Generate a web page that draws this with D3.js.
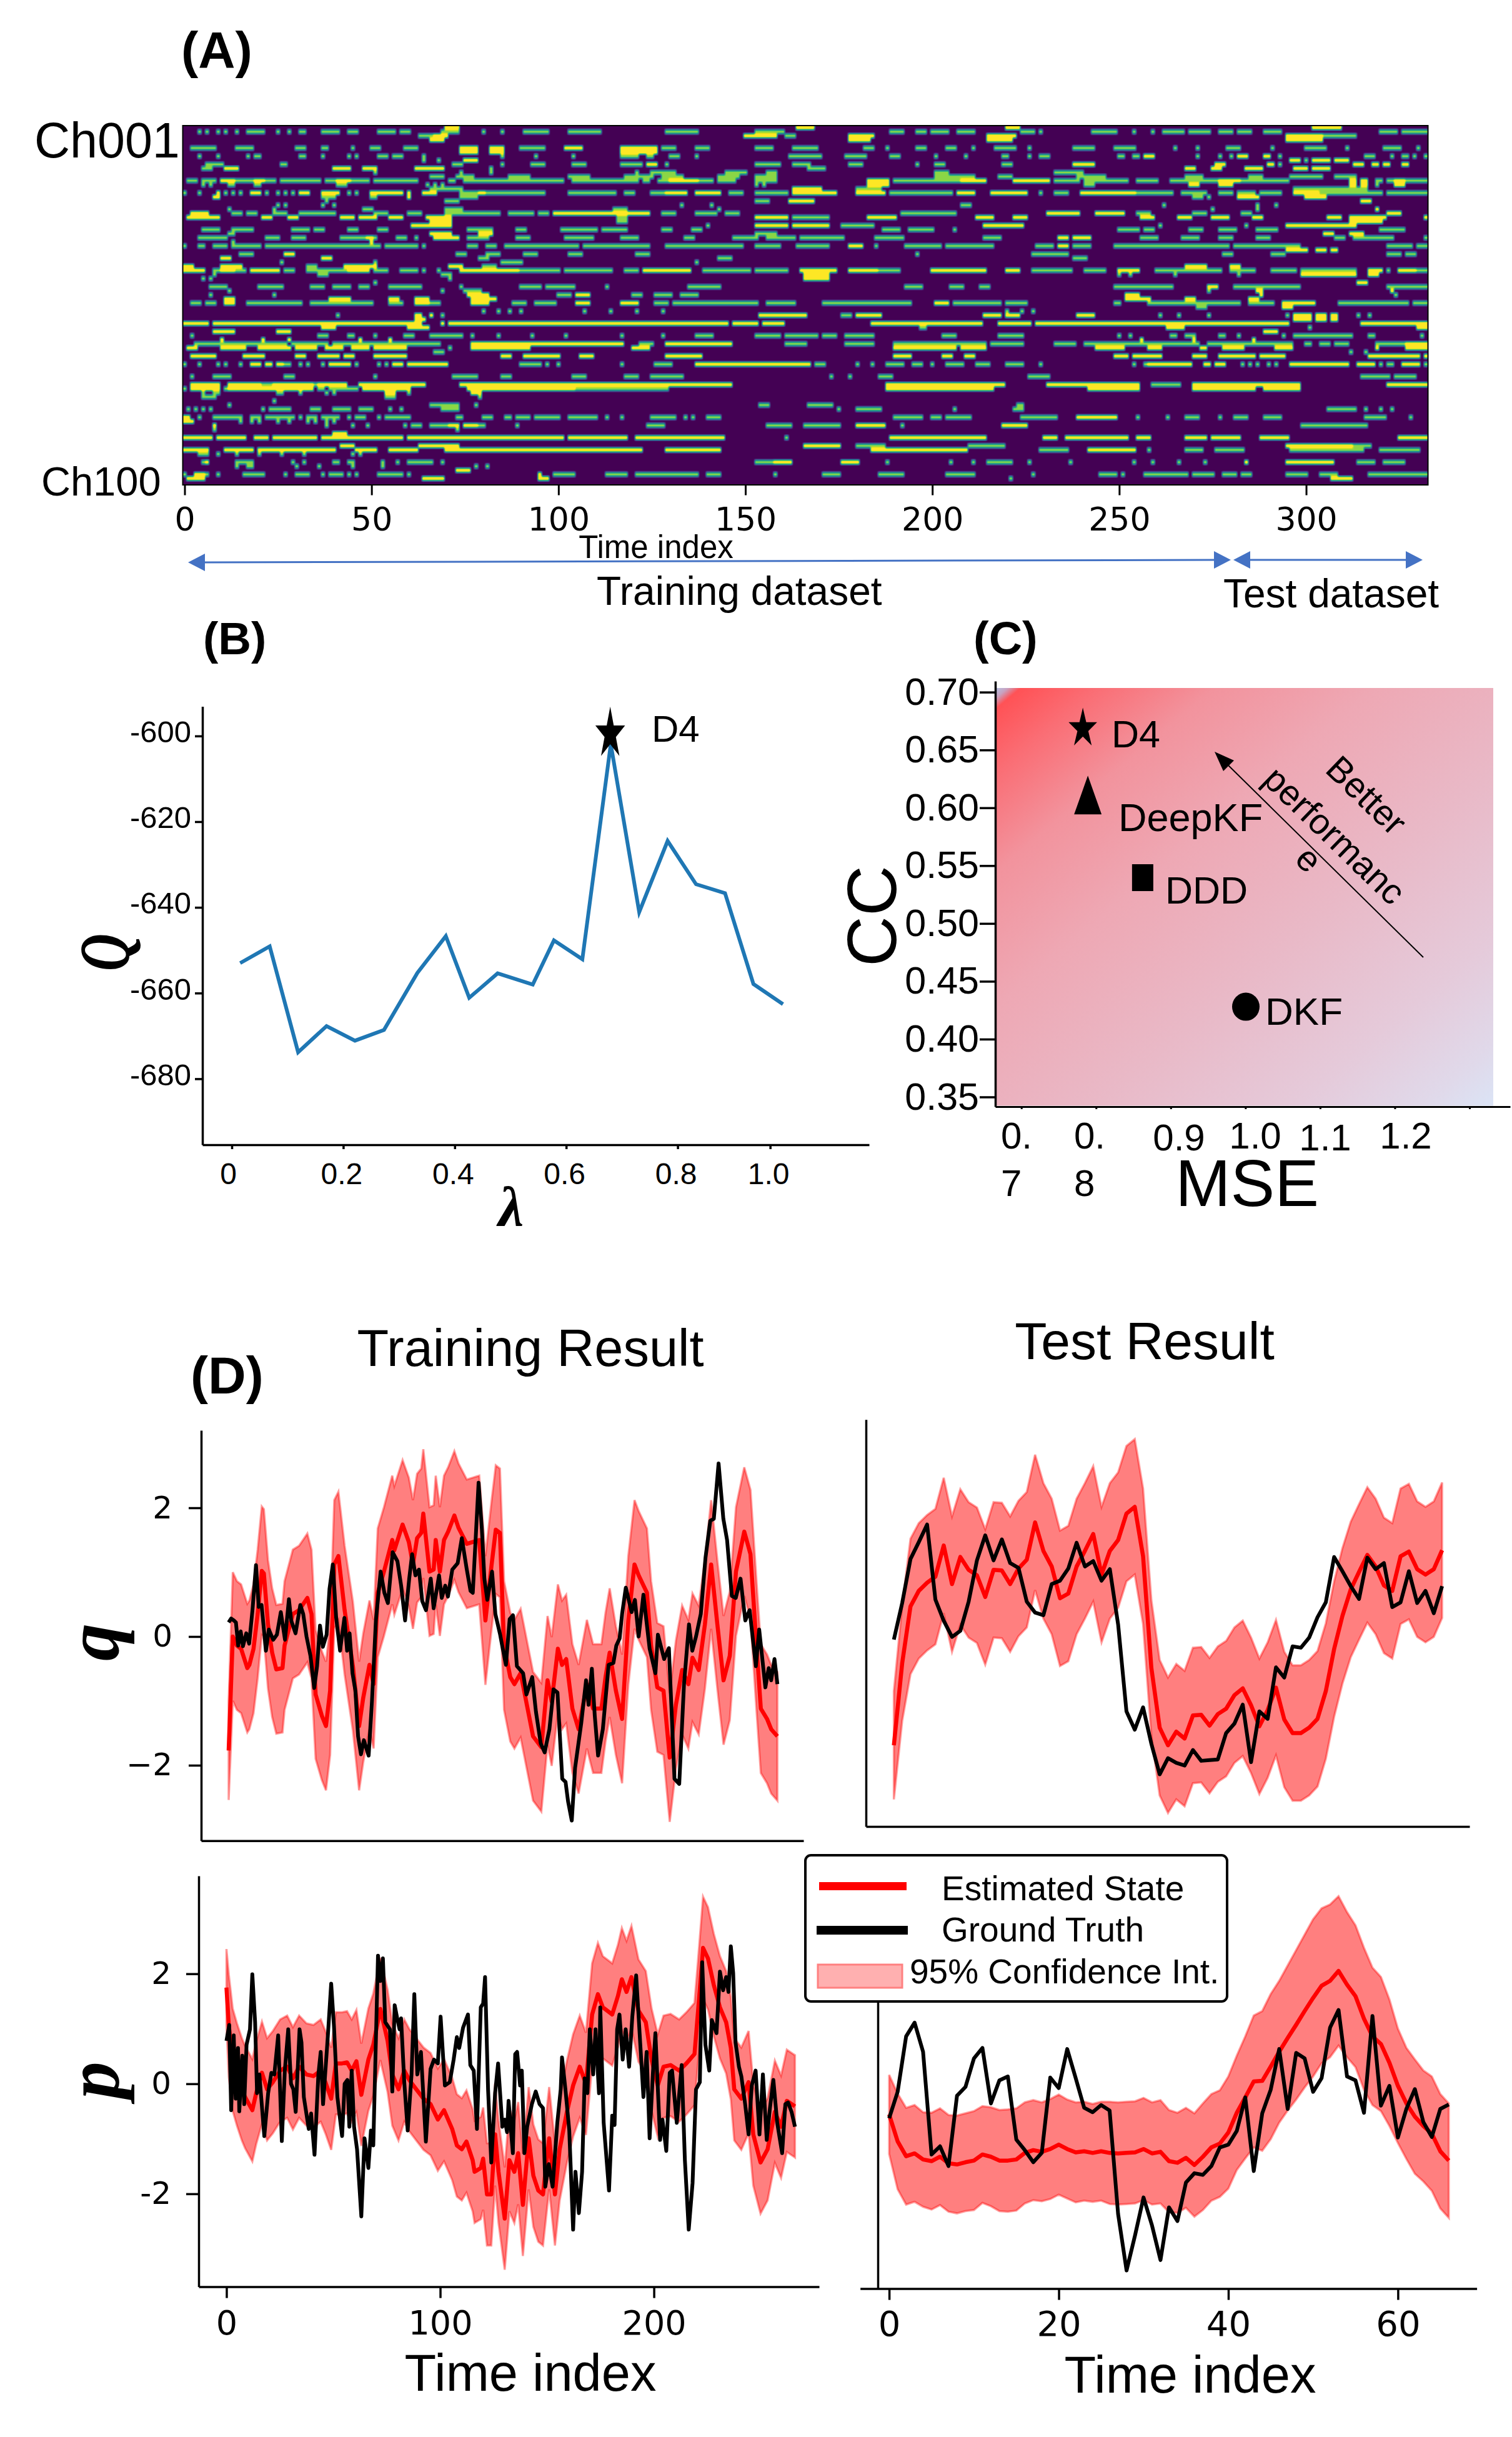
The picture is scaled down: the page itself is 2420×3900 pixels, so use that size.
<!DOCTYPE html>
<html><head><meta charset="utf-8">
<script src="https://cdnjs.cloudflare.com/ajax/libs/d3/7.8.5/d3.min.js"></script>
<style>html,body{margin:0;padding:0;background:#fff}svg{display:block}text{font-family:"Liberation Sans",Arial,sans-serif;fill:#000}</style>
</head><body><svg id="c" width="2420" height="3900" viewBox="0 0 2420 3900"></svg>
<script>
// ---------- Panel A: channel activity (row index, runs of time cells; "y" = bright, default = mid level)
const hmRowIndex=[0,1,2,3,5,6,7,8,9,10,11,12,13,14,15,16,17,18,19,20,21,22,23,24,25,26,27,28,29,30,31,32,33,34,35,36,37,38,39,40,41,42,43,44,45,46,47,48,49,50,51,52,53,54,55,56,58,61,63,64,65,66,67,68,69,71,72,73,74,75,76,78,79,80,82,83,84,85,86];
const hmRowRuns=[
"70-73y 164-168y 220-223y 302-309y",
"4 6 9 11 14 17-21 25 28 31-32 37-41 44-46 52-56 58-60 69-73 80 85 91-97 103-111 129-137 153-160 189-192 196-198 200-204 207-211 224-227 229 243-249 254 259 262-267 269-274 277-280 282-285 289-293 320-324 326-332",
"63-67 67-70y 150-158y 161-163 178-184y 215-222y 295-304y 304-313",
"66-69y 178-183y 215-221y 295-304y",
"2-5 6-8 14-18 30-32 37-38 45 50-52 59-62 74-78y 82-85y 90-96 102-106y 117-121y 122-126y 128-131 137-140 153-157 163-169 182-184 188 196-198 204-206 211 217-222 226 238-243 249-254 265 271 279-282 291 300-305 311 321-325 330",
"74-78y 82-85y 117-126y",
"4 9 17 19-20 31-32 37 44 46 52-54 56-58 64 85 94 104 117-121 124-125 130-132 137 162-170 177-182 189-191 201 209 219-220 226 229-231 250-251 254-255 257-259y 271 277 280 282-284y 289-290y 293 316-318 323 326-327 329 332",
"64 68 75-78y 296-298y 300 302-306y 308-311y",
"6-10 26-27 72-74 85 93-96 104-107 117-122 124-126y 129 153-159 163-167 178-181 196 201-203 219-221 238-243y 276-278y 290-291y 293 313-315y 318-319y 321-322y 326-327y",
"5-7 11-14y 40-44y 48-51y 62-69y 82 167-171 268-270y 275-277y 284-288y 297-300y 302-306y",
"51 74 82 121 125-131 145-150 156-158 201-204 233-240",
"66-69 73-77 87-92 103-108 118-125 128-133 143-148 153-158 201-211 218-221 239-246 268-272 285-288 296-304 308-313",
"1-3 5-8 10-18 10-13y 19-24 19-21y 26-36 38-44 41-44y 45-49 51-60 61-62 71-72 75 77-82 76-85 85-101 104-121 123-124 127-129 130-137y 138-141 143-147 153-158 183-188y 190-200 201-214 208-214y 222-231y 233-239 241-252 255-260 264-295 277-282y 312-313y 315-316y 319-320 322-333 324-326y",
"5 7 12-13 19-20 41-43 65 67 69 153 155 183-188y 241-243 269-271y 277-280y 312-313y 315-316y 319 324-326y",
"66-74 163-170y 180-186 297-316",
"0 4 9y 11 13 15 18-20y 22 25 27 29 31-33y 37-41y 44 46 50-55y 56-58y 60y 64-67y 75-77 79-80y 74-96 103-111 112-115 118-120 125-130 129-134y 137-143y 146-149 153-161 163-174y 180-187y 189-205 207-211y 216-225y 229 233-236 240-254y 255-264 267-273 277-280 282-286 288-293 297-303y 303-316 317-320 322-326 327-332",
"8-9y 37-40 50-51 60y 74-78 270-272 274 282-287y 300-305y",
"38 70-73 153-156 162-168y 315-317y",
"25 27 37 40 133 141 208-210 262 287 292",
"12 24 48-50 70-74 115-118 143 275 287 319y",
"2-6y 13-15 17-19 24-27 31-34 35-40 51-54 60-63 70-74 75-84 87-93 95-97 99-124y 128-131 137-142 145-148 192-206 231-239y 244-251y 255-258 270-273 283-285 322-325y",
"1-9y 21-23y 28-30y 42-45y 47-51y 55-58y 65-71y 116-118 153-161y 163-172 183-190y 212-216y 222-225y 256-259y 266-269y 275-279y 286-288y 306-309y 312-321y 332y",
"66-71y 116-118 312-320y",
"61-71y 140 153-161y 163-172y 176-184 214-224y 261 284 295-313y",
"5-9 13-18 29-33 35-37 44-46 52-54 76-82 89-91 101-110 112-118 128-130 136-138 187-191 194-200 206 250-255 257-259 269-272 277-281 287-292 320-322 323-326",
"12-13 66-71y 79-82y 153-158 305-307y 312-315y",
"4-11 22-25 29-32 42-51 49-50y 57-59 62 67-73y 76-81 89-92 102-109 117-121 134-136 147-153 156-163 165-176 185-192 214-218 234-236y 238-242y 256-260 267-271 277-280 287-290 308-310 313-323 332",
"13 50y",
"0 4-5 8-11 13-20 22-52 54-62 64 76-78 81-83 86-105 107-124 129-149 153-159 164-172 178-181y 185 193-202 204-216 228-232 234-236y 238-242 249-257 258-279 281-298 322-328 330-332",
"295-300y 303-305y 307-308y",
"15-18 27-29y 73-75 81-84 91-94 103-106 121-124 196 227-236 278-280 291-294 322-325 327-329",
"10-12y 37-39y 79-81 143-146 238-241",
"26 51 85-90 137",
"0-2y 10-15y 33-35 43-51y 71-74y 80-83 268-273y 280-282y",
"0-5y 8-16 10-13y 18-25y 27-29 33-35 36-43 44-49y 51-54 58-62 64 68 74-78y 79-83y 75-89y 90-100 102-107 108-114 118-121 123-135y 139-151 153-161 165-174y 178-185y 185-191 200-214y 220-223y 227-237 241-246 250-255y 260-277 280-286 291-297 299-313 317-320y 322 325-329y 329-332",
"8 36-38 69-71 166-172y 250 253 265 282 299-313y 317-319y",
"5 7 71 166-172y",
"51 314-316y",
"7-11 20-26 34-37 40-44 47-49 55-63 74 90-95 97-104 113 135-143 193-197 205-208 213-215 249-256 257-264 274-276y 281-290 291-298 322-332",
"12 69 75-79 274 287-288y 323y",
"7 24 76-81y 100-103 105-108y 120-122 126-130 133-137 252-255y 288y 324",
"11-13y 39-44y 55-57y 62-65y 77-83y 252-258y 268-270y 285-287y",
"2-4 6-8 11-13y 17-31 34-50 55-58 62-65y 66-68 77-81y 88-91 94-99 105-108y 117-121y 126-129 131-138 139-153 156-163 171-194 201-204y 206-218 220-225 249-250 258-273 274-282 285-291 294-296y 297-302y 309-327 329-332",
"294-296y 271-273",
"80 84 87 90 107 114 121 128 220 224 227",
"41 62-63y 66y 69 154-166y 176-178 180-186y 214-218y 220-223y 239-243y 261 266 274 295 297-301y 303-305y 307-308y 314 317",
"62-64y 297-301y 303-305y 307-308y",
"0-6y 8-63y 69y 71-118y 119-145y 147-153y 155-160y 184-213y 218-226y 228-295y 315-332y",
"37-40y 60-65y 197-198 263-267y 301 330-332y",
"8-13y 25-28y 289-292y",
"2 36-38 44-45 51 59-61 66-73 74 77 84 93 102 117 128 137-141 153-159 161-169 171-174 177-184 203-206 218-224 250 253 264-265 268-270 277-278 282 294 297-312 317-318 331",
"10y 21y 28y 47y 55y 256y 270y 286y",
"3-7 8-27 29-38 40-66 67-68 79-83 77-117y 122-125 129-146y 161-166 177-184 190-214 216-224 233-238 241-252 252-271 274-296 300 301 304-306 308-311 319-327 327-332y",
"1-3y 10-16y 20-25y 26-28y 30-35y 38-42y 45-49y 51-59y 71 77-83y 78-92y 120-124y 190-206y 208-214y 244-251y 258-261y 272-273y 278-283y 292-296y 319y 327-332y",
"67-69 312 316",
"2-8y 16-21y 30-32y 36-41y 43-45y 51-59y 85-87y 91-100y 106-109y 129-138y 190-194y 203-205y 209-211y 249-252y 254-261y 270-273y 277-286y 288-294y 317-330y 332y",
"0 4 9 11 15 18-20y 22-23y 25-26y 27-28 31 33 37 39-44y 46 52 54 56-58y 60-70y 90-95 97 100 117 126-130 137-153y 153-167y 169-171 180 184 188-192 195-197 200 204-208 212-215 220-224 229 254 257 258-264y 265-269y 273-274y 276-278y 283 285 287 290 292 296-311y 314-318y 320 322-323 326-330y 332",
"2 8-12 27-29 51 72-78 73-74 85-87 104-107 118-121 125-133 173 178 186-189 226-231 315-322 324-329",
"2-9y 12-20y 21-36 24-34y 36-43y 47-64y 74-83y 75-146y 188-219y 231-255y 259-266 270-298y 322-332y",
"0 2-9y 11 12-20y 21-34y 36-37 39-46 48-60y 78-83y 76-104y 105-129 188-216y 242-255y 270-286y 289-298y",
"5 8-9 25-26 31 38 40 54-56y 60 77-79y",
"5-8 54-56 79",
"24",
"12 66-73 78 154-156 167-173 223-224",
"1 3 5 7 21 23-28 34-36 40-44 47-50 55 58 69-73 175 180-186 206 222-224 306-313 316 320 323",
"0-1y 4 8-10 11-13 14 15 18-20 22-24 25-27 28-29 31 33-35 37-38 39-41 44 46-48 52 54-57 58-59 60 73-74 80-82 86-87 89-92 94-100 103-110 113 117 125-131 134 136 140-143 190-197 200-202 204-210 224-233 239-249y 255 263 268-271 277 281-284 289-293 316-321 328",
"0-2y 15 18 20 25 28 33 35 38 40",
"8y 38 45 49 59 61-63 67-69 71-73y 75-78y 66-70 75-80 89 124-128 156-162 166-175 180-187y 192 219-225y 299-316",
"8 73",
"40-43y",
"0-7y 9-16y 19-22y 24-35y 37-58y 75-83y 60-101y 103-118y 121-124y 125-137y 138-144y 161 189-199y 200-205y 206-214y 230-233y 236-252y 255-258y 268-273y 275-282y 288-295y 325-332y",
"42-45y 63-71y 67-73y 166-175y 180-187 210-219 295-312y 312-317",
"0-6y 11-18y 20-32y 33-40y 46-51y 55-58y 59-62y 70-78y 79-83y 70-122y 129-143y 184-209y 229-236 242-254y 258 268-272 276-283 296-315 320-330",
"4-6 9 14 20 26 32 45 47",
"6y 14-18 32 41 45 57 60-65 66 69 5 29 40 44 53 153-162 158-162y 176-180y 188 205 211 215-221 226 237 254 259 266 273 284y 295-307y 314-318 321-326",
"14 17-18 30 36 45 53 78 81",
"73-76y",
"0 3-5y 6 9 16-21 27 30-33 37 39-42 44 46 52-55 56-58 60 95y 99-104 113-118 121-131 131-137 140-143 158 171-175 186-192 204-211 227 245-249 251 257-268 270-275 278-281 283-285 295-300 304-308 317-332",
"1-5y 3-5y 64-69y 95-97y 221 307-312y"];

// ---------- Panel B
const bLambda=[.015,.068,.119,.170,.221,.273,.333,.384,.426,.477,.540,.578,.629,.680,.731,.782,.833,.885,.936,.989];
const bQ=[-653,-649.1,-673.8,-667.7,-671.1,-668.6,-655.3,-646.7,-661.1,-655.4,-658,-647.7,-652.1,-601.9,-641.1,-624.5,-634.6,-636.7,-657.9,-662.6];
const bBest=[.679,-599.5];
const bYTicks=[-600,-620,-640,-660,-680];
const bXTicks=[0,.2,.4,.6,.8,.966];
const bXLabels=["0","0.2","0.4","0.6","0.8","1.0"];

// ---------- Panel C
const cNames=["D4","DeepKF","DDD","DKF"];
const cMSE=[.782,.7887,.862,1.0];
const cCC=[.669,.611,.5396,.428];
const cYTicks=[.35,.40,.45,.50,.55,.60,.65,.70];
const cXTicks=[.7,.8,.9,1.0,1.1,1.2,1.3];

// ---------- Panel D, training q
const qTrainEstT=[0,2,4,6,9,10,12,14,16,17,19,21,23,26,27,31,34,38,40,42,45,47,49,51,53,56,60,63,65,68,70,72,75,79,80,84,87,89,91,93,94,97,99,100,102,104,106,109,111,115,118,121,124,127,129,131,133,136,138,141,144,147,151,154,156,159,161,163,166,169,173,176,180,182,184,187,190,193,196,198,202,204,207,210,213,216,219,222,224,227,230,233,236,239,242,245,249,252,255,257,260,262,265];
const qTrainEst=[-1.77,0,-.14,-.19,-.49,-.44,-.19,.35,1.02,.98,.19,-.25,-.51,-.49,-.14,.35,.41,.6,.35,-.9,-1.23,-1.39,-.84,1.12,1.25,.41,-.46,-1.39,-.95,-.44,-.74,.68,1.01,1.5,1.34,1.74,1.47,1.12,1.53,1.61,1.91,1.01,1.04,1.5,1.01,1.5,1.63,1.88,1.69,1.44,1.47,1.5,.25,1.12,1.66,1.61,-.14,-.63,-.74,-.57,-1.06,-1.55,-1.72,-.68,-1.01,-.19,-.44,-.35,-1.12,-1.44,-.74,-1.12,-1.12,-.63,-.25,-.84,-1.28,.25,1.12,.95,.68,-.14,-.79,-.84,-1.88,-1.06,-.52,-.74,-.33,-.52,.19,1.12,.19,-.68,-.3,1.01,1.63,1.28,-.19,-1.12,-1.28,-1.44,-1.55];
const qTrainHalfStart=[.77];
const qTrainHalf=1.0;
const qTrainTrueT=[0,1.2,2.5,3.5,4.6,5.8,6.9,8.5,9.9,11.5,13.2,14.5,15.9,18,19.4,21.5,23.3,25.2,27.2,29.1,30.2,32.3,34.6,36,37.6,39.5,41.3,42.7,44.1,45.5,47.3,48.7,50.3,51.9,53.8,55.9,57.2,58.4,59.8,61.2,62.5,63.9,65.3,67.6,69.2,71.1,73.4,75.2,76.9,79.2,81.5,83.3,85.2,87.2,88.6,90.2,91.9,93.5,95.3,97.6,99,101.6,102.9,104.6,105.9,108,110.6,112.6,114.9,116.8,117.9,120.7,122.3,123.5,124.9,127.2,128.8,131.1,132.2,133.9,135.7,137.3,139.2,142.2,143.8,146.6,148.4,150.7,152.6,154.9,156.9,158.8,161.1,162.7,163.9,165.7,167.3,170.3,172.6,173.8,175.4,176.8,178.4,180.7,183.5,185.8,187.2,188.8,190,191.8,194.6,196.2,198,200.3,203.3,206.1,207.3,210.3,212.6,215.3,217.6,219.9,222.3,223.9,225.7,228,230.3,232.6,234.3,236.6,238.9,240.7,243,244.9,247.2,249.5,251.6,254.6,256.2,259.2,260.8,262,263.6,265];
const qTrainTrue=[.22,.28,.25,.22,-.14,.08,-.15,.05,-.11,.41,1.11,.46,.49,-.22,.11,-.05,.03,.38,-.05,.58,.25,.05,.49,.35,0,-.3,-.8,-.46,.17,-.16,.03,.74,1.12,.3,-.22,.29,-.22,.05,-.57,-.84,-1.55,-1.83,-1.61,-1.85,-1.01,.25,1.01,.68,.52,1.31,1.17,.79,.25,.9,1.28,.95,1.04,.55,.41,.9,.44,.95,.6,.79,.62,1.04,1.14,1.53,1.06,.71,.68,2.39,1.66,.9,.57,1.01,.35,.03,-.16,-.44,.27,.33,-.46,-.57,-.9,-.63,-1.17,-1.66,-1.8,-1.44,-.82,-.87,-2.21,-2.26,-2.56,-2.86,-2.04,-1.34,-.68,-1.06,-.5,-1.23,-1.85,-1.44,-.44,-.41,-.14,-.03,.35,.76,.38,.57,0,.65,-.19,-.57,.03,-.35,-.18,-2.21,-2.29,-.74,.19,-.22,0,.35,1.23,1.8,1.83,2.69,1.83,1.5,.63,.6,.9,.25,.41,-.46,.11,-.79,-.49,-.68,-.35,-.74];

// ---------- Panel D, test q (one value per time step)
const qTestEst=[-1.94,-.73,.11,.34,.46,.55,1.01,.44,.84,.65,.57,.25,.65,.64,.44,.67,.8,1.35,.93,.7,.23,.3,.7,.93,1.18,.58,.93,1.09,1.48,1.58,.85,-.8,-1.68,-1.94,-1.74,-1.84,-1.5,-1.49,-1.65,-1.48,-1.4,-1.2,-1.1,-1.35,-1.66,-1.42,-1.09,-1.56,-1.76,-1.76,-1.68,-1.55,-1.14,-.52,-.03,.36,.62,.87,.7,.42,.34,.85,.92,.66,.58,.66,.94];
const qTestTrue=[-.38,.16,.81,1.06,1.32,.21,-.1,-.34,-.25,.18,.79,1.16,.79,1.1,.75,.68,.18,.02,-.02,.44,.49,.67,1.05,.7,.78,.49,.66,-.16,-1.44,-1.71,-1.38,-1.92,-2.37,-2.13,-2.2,-2.24,-2.01,-2.17,-2.16,-2.15,-1.76,-1.62,-1.34,-2.19,-1.44,-1.55,-.79,-.94,-.48,-.5,-.35,-.05,.17,.84,.63,.41,.22,.83,.66,.75,.1,.17,.63,.16,.34,.01,.41];
const qTestHalfStart=[.8,.85];
const qTestHalf=1.0;

// ---------- Panel D, training p
const pTrainEstT=[0,1.1,2.9,4.9,7.2,8.7,12.1,13.9,16.6,19,21.7,25.1,28.4,31.1,34,37.4,40.7,44.1,46.3,49,51.2,54.1,56.4,58.6,60.8,63.1,66.4,68.7,72,75.4,77.6,80.5,83.2,85.5,88.8,92.2,95.5,98.9,101.8,105.6,107.8,110.1,112.3,115.2,116.1,119,120.1,121.9,123.9,125.7,127.3,130.2,132.4,134.7,136.5,138.7,141.4,143.6,145.9,148.1,151,153.7,155.9,159.3,162.2,165.3,168.2,171.1,173.8,176.1,180.5,183.2,185,187.2,189.5,192.8,196.2,198.9,201.8,204.5,207.8,211.8,215.2,219,220.8,223,225.3,228,230.9,233.8,236,237.6,240.9,244.3,246.5,249.9,253.2,256.6,259.5,262.2,266];
const pTrainEst=[1.75,1.05,.44,.17,-.1,-.24,-.48,-.17,.2,-.1,.03,.24,.31,.1,.31,.17,.14,.24,.03,-.27,.37,.37,.39,.24,.41,-.2,.44,.71,1.36,.78,.17,-.1,.24,.07,-.1,-.27,-.37,-.65,-.48,-.82,-1.12,-1.19,-1.05,-1.39,-1.6,-1.53,-1.36,-2.01,-2.01,-.92,-1.6,-2.45,-1.39,-1.6,-1.26,-2.2,-.99,-1.67,-1.94,-2.01,-.99,-2.01,-1.19,-.51,-.03,.31,0,1.26,1.63,1.39,1.26,1.6,1.9,1.67,1.94,1.33,1.12,.44,-.03,.31,.34,.24,.37,.54,1.39,2.47,2.28,1.8,1.39,1.12,.65,-.1,-.27,.03,-.92,-1.43,-1.19,-.51,-.78,-.31,-.41];
const pTrainHalfStart=[.7];
const pTrainHalf=.93;
const pTrainTrueT=[0,1.3,2.2,3.4,4.3,5.4,6,7.4,8.3,9.4,11,12.1,13.4,14.3,15.4,17.7,19.5,21,22.4,24.2,25.9,27.3,28.9,30.2,31.3,32.4,34.2,35.1,36.2,38.5,39.6,41.2,43,44.1,45.2,47.4,49,50.3,51.9,54.1,55.3,56.6,57.5,58.6,59.7,61.1,63.1,64.6,66.4,67.6,68.7,70.9,72,73.2,74.3,76.5,77.6,78.7,79.9,81,81.7,83.2,84.8,86.6,87.9,89.3,91,93.3,95.5,97.1,98.9,100.2,102.2,104.5,106.3,107.8,108.9,110.7,113,114.1,115.7,117.2,119,120.1,121,122.4,123.9,125.7,127.1,129.1,130.2,131.3,132,134,135.1,136,137.4,138.2,139.4,140.7,142.9,144.7,146.5,148.1,149.2,150.8,152.6,154.8,156.4,157,158.6,160.4,162.2,163.3,164.9,166.4,167.6,168.9,170,171.6,172.7,174.3,174.9,176.5,179,180.5,181.6,182.8,183.9,185.4,186.8,188.4,189.9,191.7,195.1,196.6,198,199.5,200.7,202.9,204,205.8,207.4,208.5,210.7,213,214.5,216.3,218.1,219.7,221.5,222.6,224.1,225.9,227.1,229.3,230.9,232.4,233.8,234.9,236,237.1,238.2,239.8,240.9,242.7,244.3,245.8,247.6,249.4,251,252.8,254.3,255.9,257.7,260,261.5,262.8,264.4,266];
const pTrainTrue=[.78,1.07,-.48,.88,-.27,.65,-.5,.51,-.37,.71,.99,1.99,1.12,-.17,.17,-.95,-.17,.2,.17,.88,-1.04,.24,.99,0,-.1,-.51,.99,.75,-.24,-.82,-.54,-1.29,.17,.58,-.37,.85,1.82,1.05,-.24,-.95,0,.07,-.78,.24,-.78,-1.19,-2.41,-.99,-1.53,-.85,-1.12,2.33,1.87,2.28,1.12,.99,-.14,1.43,1.19,.99,1.19,.03,-.85,.17,1.63,.17,.58,-1.05,.27,.44,.37,1.22,-.03,.03,.44,.85,.65,1.02,1.26,.34,.24,-.82,1.39,1.46,1.94,-.1,-1.43,-.17,.37,-.78,-.65,-.88,-.31,-1.26,.54,.58,-.03,.24,-1.26,-.78,-.37,-.14,-.37,-.44,-1.87,-1.46,-1.87,-.71,-.1,.48,-.1,-.85,-2.65,-1.6,-2.35,-1.6,.1,-.17,.99,.17,.99,-.17,1.39,-.71,-1.94,-.58,-.75,.99,1.26,.44,.99,.31,1.22,1.97,-.24,.58,-.99,.17,.92,-1.02,-.65,-1.22,.2,.24,-.71,.34,-1.39,-2.65,-1.8,-.1,.03,2.21,.71,.24,1.16,.92,2.04,1.7,1.94,1.67,2.5,2.01,.75,.31,.14,-.37,-.92,-.03,.24,-.92,.17,-1.02,-.44,.07,-.71,-1.26,-.37,-.34,-.51,-.78];

// ---------- Panel D, test p (one value per time step)
const pTestEst=[-.17,-.66,-.93,-.88,-.99,-1.02,-.94,-1.06,-1.08,-1.04,-1.01,-.9,-.94,-1.01,-1.01,-.99,-.87,-.82,-.85,-.8,-.72,-.8,-.86,-.84,-.87,-.84,-.87,-.88,-.87,-.86,-.8,-.88,-.85,-1.02,-1.05,-.96,-1.09,-.94,-.77,-.7,-.5,-.14,.14,.43,.44,.7,.97,1.22,1.46,1.71,1.95,2.17,2.26,2.44,2.19,1.98,1.57,1.25,1.11,.77,.35,.03,-.21,-.38,-.52,-.84,-1.01];
const pTestHalf=[.72,.87,.88,.88,.86,.88,.88,.88,.89,.89,.9,.88,.9,.92,.93,.93,.92,.91,.9,.91,.91,.9,.91,.9,.89,.9,.93,.93,.93,.93,.93,.93,.94,.93,.91,.91,.94,.97,.97,.97,1.02,1.04,1.11,1.2,1.27,1.32,1.29,1.32,1.36,1.39,1.43,1.41,1.39,1.36,1.32,1.29,1.29,1.25,1.22,1.15,1.04,1.01,1.04,1.01,1.04,1.04,1.04];
const pTestTrue=[-.24,.24,1.25,1.5,.97,-.9,-.75,-1.11,.17,.33,.85,1.04,.03,.45,.52,-.63,-.82,-1.04,-.87,.5,.31,1.02,.49,-.05,-.13,0,-.1,-1.98,-3.01,-2.37,-1.68,-2.19,-2.82,-1.86,-2.11,-1.41,-1.24,-1.27,-1.11,-.77,-.72,-.47,.14,-1.2,-.15,.28,1.02,-.07,.95,.85,.24,.49,1.41,1.73,.52,.45,-.14,1.62,-.01,.35,-.59,-.07,.29,-.31,-.58,-.07,.01];

const legendItems=["Estimated State","Ground Truth","95% Confidence Int."];
const titles=["Training Result","Test Result"];
const dYTicks=[-2,0,2];

// ==================================================================
const svg=d3.select("#c");
const SANS='"Liberation Sans",Arial,sans-serif', DJ='"DejaVu Sans",sans-serif', SERIF='"Liberation Serif","DejaVu Serif",serif';
function label(x,y,t,fs,o={}){
  const e=svg.append("text").attr("x",x).attr("y",y).attr("font-size",fs).attr("text-anchor",o.a||"start").text(t);
  if(o.w)e.attr("font-weight",o.w); if(o.s)e.attr("font-style",o.s); if(o.f)e.style("font-family",o.f);
  if(o.t)e.attr("transform",o.t);
  return e;
}
function styleAxis(g,sw,fs,font){
  g.selectAll("path.domain").attr("stroke","#000").attr("stroke-width",sw);
  g.selectAll(".tick line").attr("stroke","#000").attr("stroke-width",sw);
  g.selectAll(".tick text").attr("font-size",fs).style("font-family",font).attr("fill","#000");
}
const unitStar=d3.symbol(d3.symbolStar,1/0.8908130915292852)();

// ---- Panel A
const ax=d3.scaleLinear().domain([-0.5,332.5]).range([292.5,2285]);
const ay=d3.scaleLinear().domain([-0.5,87.5]).range([201,775.5]);
const nR=88,nT=333;
const mat=new Float32Array(nR*nT);
hmRowIndex.forEach((r,i)=>{
  hmRowRuns[i].split(" ").forEach(tok=>{
    const bright=tok.endsWith("y");
    const [a,b]=tok.replace("y","").split("-").map(Number);
    for(let t=a;t<=(b===undefined?a:b)&&t<nT;t++){
      mat[r*nT+t]=Math.max(mat[r*nT+t],bright?1:0.72);
    }
  });
});
const lut=d3.range(256).map(i=>d3.rgb(d3.interpolateViridis(i/255)));
const W=Math.round(ax.range()[1]-ax.range()[0]),H=Math.round(ay.range()[1]-ay.range()[0]);
const cv=document.createElement("canvas");cv.width=W;cv.height=H;
const ctx=cv.getContext("2d"),img=ctx.createImageData(W,H);
const cl=(v)=>v<0?0:v>1?1:v;
const at=(r,t)=>mat[Math.max(0,Math.min(nR-1,r))*nT+Math.max(0,Math.min(nT-1,t))];
for(let py=0;py<H;py++){
  const rv=ay.invert(ay.range()[0]+py+.5),r0=Math.floor(rv),fr=cl((rv-r0-.08)/.84);
  for(let px=0;px<W;px++){
    const tv=ax.invert(ax.range()[0]+px+.5),t0=Math.floor(tv),ft=cl((tv-t0-.2)/.6);
    const v=Math.min(1,1.15*((at(r0,t0)*(1-ft)+at(r0,t0+1)*ft)*(1-fr)+(at(r0+1,t0)*(1-ft)+at(r0+1,t0+1)*ft)*fr));
    const c=lut[Math.round(v*255)],k=(py*W+px)*4;
    img.data[k]=c.r;img.data[k+1]=c.g;img.data[k+2]=c.b;img.data[k+3]=255;
  }
}
ctx.putImageData(img,0,0);
svg.append("image").attr("x",ax.range()[0]).attr("y",ay.range()[0]).attr("width",W).attr("height",H)
  .attr("preserveAspectRatio","none").attr("href",cv.toDataURL());
svg.append("rect").attr("x",ax.range()[0]).attr("y",ay.range()[0]).attr("width",W).attr("height",H).attr("fill","none").attr("stroke","#000").attr("stroke-width",2);
const aAxis=svg.append("g").attr("transform",`translate(0,${ay.range()[1]})`).call(d3.axisBottom(ax).tickValues([0,50,100,150,200,250,300]).tickSize(17).tickSizeOuter(0).tickPadding(20));
styleAxis(aAxis,3,52,DJ);aAxis.select("path.domain").attr("stroke-width",2);
label(290,108,"(A)",82,{w:"bold"});
label(55,252,"Ch001",79);
label(66,793,"Ch100",65);
label(1050,893,"Time index",51,{a:"middle"});
label(955,968,"Training dataset",64);
label(1958,972,"Test dataset",64);
function blueArrow(x1,y1,x2,y2){
  svg.append("line").attr("x1",x1+20).attr("y1",y1).attr("x2",x2-20).attr("y2",y2).attr("stroke","#4472c4").attr("stroke-width",3);
  svg.append("path").attr("fill","#4472c4").attr("d",`M${x1},${y1}l27,-14v28z`);
  svg.append("path").attr("fill","#4472c4").attr("d",`M${x2},${y2}l-27,-14v28z`);
}
blueArrow(301,900,1970,896);
blueArrow(1974,896,2277,896);

// ---- Panel B
const bx=d3.scaleLinear().domain([-0.0527,1.1435]).range([324,1391]);
const by=d3.scaleLinear().domain([-695.4,-593.1]).range([1832,1130.5]);
const bxa=svg.append("g").attr("transform","translate(0,1832)").call(d3.axisBottom(bx).tickValues(bXTicks).tickFormat((d,i)=>bXLabels[i]).tickSize(7).tickSizeOuter(0).tickPadding(22));
styleAxis(bxa,3.5,48,SANS);
bxa.selectAll(".tick text").attr("dx",(d,i)=>i===0?-6:-3);
const bya=svg.append("g").attr("transform","translate(324,0)").call(d3.axisLeft(by).tickValues(bYTicks).tickFormat(d=>String(d)).tickSize(12).tickSizeOuter(0).tickPadding(6));
styleAxis(bya,3.5,49,SANS);
bya.selectAll(".tick text").attr("dy","0.2em");
svg.append("path").datum(d3.zip(bLambda,bQ)).attr("fill","none").attr("stroke","#1f77b4").attr("stroke-width",6)
  .attr("d",d3.line().x(d=>bx(d[0])).y(d=>by(d[1])));
svg.append("path").attr("d",unitStar).attr("fill","#000").attr("transform",`translate(${bx(bBest[0])},${by(bBest[1])}) scale(25,43.7)`);
label(1043,1187,"D4",60);
label(325,1047,"(B)",73,{w:"bold"});
label(0,0,"Q",115,{w:"bold",s:"italic",f:SERIF,a:"middle",t:"translate(206,1524) rotate(-90) scale(.72,1)"});
label(818,1962,"λ",92,{w:"bold",s:"italic",f:SERIF,a:"middle"});

// ---- Panel C
const cx=d3.scaleLinear().domain([.7,1.3]).range([1635,2353]);
const cy=d3.scaleLinear().domain([.35,.70]).range([1755.5,1107.6]);
const grad=svg.append("defs").append("linearGradient").attr("id","perf").attr("x1",0).attr("y1",0).attr("x2",1).attr("y2",1);
[[0,"#b6c2e4"],[.012,"#c8a2c0"],[.025,"#ff5256"],[.1,"#fa6d74"],[.22,"#f2939d"],[.38,"#eea8b4"],[.6,"#e9b9c7"],[.8,"#e5cada"],[.93,"#e0d9ea"],[1,"#dbe4f6"]]
  .forEach(s=>grad.append("stop").attr("offset",s[0]).attr("stop-color",s[1]));
svg.append("rect").attr("x",1594).attr("y",1101).attr("width",796).attr("height",668.5).attr("fill","url(#perf)");
const cxa=svg.append("g").attr("transform","translate(0,1771)").call(d3.axisBottom(cx.copy().domain([.7-41.7/1195,.7+(2417-1635)/1195]).range([1593,2417])).tickValues(cXTicks).tickFormat("").tickSize(4).tickSizeOuter(0));
styleAxis(cxa,3,10,SANS);
const cya=svg.append("g").attr("transform","translate(1593,0)").call(d3.axisLeft(cy.copy().domain([.35-15.5/1851,.35+(1755.5-1090)/1851]).range([1771,1090])).tickValues(cYTicks).tickFormat(d3.format(".2f")).tickSize(25).tickSizeOuter(0).tickPadding(1));
styleAxis(cya,3.5,61,SANS);
const cMark={
  "D4":(x,y)=>svg.append("path").attr("d",unitStar).attr("transform",`translate(${x},${y+1}) scale(24,33.5)`),
  "DeepKF":(x,y)=>svg.append("path").attr("d",d3.line()([[0,-31],[22,31],[-22,31]])+"Z").attr("transform",`translate(${x},${y})`),
  "DDD":(x,y)=>svg.append("rect").attr("x",x-17).attr("y",y-21.5).attr("width",34).attr("height",43),
  "DKF":(x,y)=>svg.append("ellipse").attr("cx",x).attr("cy",y).attr("rx",22).attr("ry",22.5)
};
const cLab={"D4":[1779,1196,61],"DeepKF":[1790,1330,63],"DDD":[1865,1446,61],"DKF":[2025,1640,62]};
cNames.forEach((n,i)=>{cMark[n](cx(cMSE[i]),cy(cCC[i])).attr("fill","#000");label(cLab[n][0],cLab[n][1],n,cLab[n][2]);});
svg.append("line").attr("x1",2278).attr("y1",1532).attr("x2",1955).attr("y2",1214).attr("stroke","#000").attr("stroke-width",2);
svg.append("path").attr("fill","#000").attr("d","M1944,1203L1975,1217L1958,1234Z");
[["Better",2186,1292],["performanc",2135,1356],["e",2094,1394]].forEach(d=>label(d[1],d[2],d[0],57,{a:"middle",t:`rotate(44 ${d[1]} ${d[2]-18})`}));
label(1558,1047,"(C)",74,{w:"bold"});
[[.7,1602,1838,"0."],[.7,1602,1914,"7"],[.8,1719,1838,"0."],[.8,1719,1914,"8"]].forEach(d=>label(d[1],d[2],d[3],60));
[[1887,1841,"0.9"],[2009,1838,"1.0"],[2121,1841,"1.1"],[2250,1838,"1.2"]].forEach(d=>label(d[0],d[1],d[2],60,{a:"middle"}));
label(1996,1930,"MSE",106,{a:"middle"});
label(0,0,"CC",112,{a:"middle",t:"translate(1434,1466) rotate(-90)"});

// ---- Panel D
function series(o){
  const line=d3.line().x(d=>o.x(d[0])).y(d=>o.y(d[1]));
  const half=i=>Array.isArray(o.half)?o.half[i]:(o.start&&o.start[i]!==undefined?o.start[i]:o.half);
  const band=d3.area().x(d=>o.x(d[0])).y0(d=>o.y(d[1]-half(d[2]))).y1(d=>o.y(d[1]+half(d[2])));
  const est=o.estT.map((t,i)=>[t,o.est[i],i]);
  svg.append("path").attr("d",band(est)).attr("fill","#ff0000").attr("fill-opacity",.5).attr("stroke","#ff0000").attr("stroke-opacity",.38).attr("stroke-width",3.5);
  svg.append("path").attr("d",line(est)).attr("fill","none").attr("stroke","#ff0000").attr("stroke-width",6.5).attr("stroke-linejoin","round");
  svg.append("path").attr("d",line(o.trueT.map((t,i)=>[t,o.tru[i]]))).attr("fill","none").attr("stroke","#000").attr("stroke-width",6).attr("stroke-linejoin","round");
}
const idx=a=>a.map((_,i)=>i);
// training q
const q1x=d3.scaleLinear().domain([-13.27,277.6]).range([322,1286]);
const q1y=d3.scaleLinear().domain([-3.172,3.204]).range([2945.7,2289]);
series({x:q1x,y:q1y,estT:qTrainEstT,est:qTrainEst,trueT:qTrainTrueT,tru:qTrainTrue,half:qTrainHalf,start:qTrainHalfStart});
const q1a=svg.append("g").attr("transform","translate(322,0)").call(d3.axisLeft(q1y).tickValues(dYTicks).tickFormat(d=>d<0?"−"+(-d):d).tickSize(20).tickSizeOuter(0).tickPadding(26));
styleAxis(q1a,3.5,50,DJ);
styleAxis(svg.append("g").attr("transform","translate(0,2945.7)").call(d3.axisBottom(q1x).tickValues([]).tickSizeOuter(0)),3.5,10,DJ);
// test q
const q2x=d3.scaleLinear().domain([-3.36,69.3]).range([1386,2352]);
const q2y=d3.scaleLinear().domain([-3.14,2.87]).range([2923,2271.7]);
series({x:q2x,y:q2y,estT:idx(qTestEst),est:qTestEst,trueT:idx(qTestTrue),tru:qTestTrue,half:qTestHalf,start:qTestHalfStart});
styleAxis(svg.append("g").attr("transform","translate(1386,0)").call(d3.axisLeft(q2y).tickValues([]).tickSizeOuter(0)),3.5,10,DJ);
styleAxis(svg.append("g").attr("transform","translate(0,2923)").call(d3.axisBottom(q2x).tickValues([]).tickSizeOuter(0)),3.5,10,DJ);
// training p
const p1x=d3.scaleLinear().domain([-13,277.3]).range([318,1311]);
const p1y=d3.scaleLinear().domain([-3.69,3.78]).range([3659.6,3002]);
series({x:p1x,y:p1y,estT:pTrainEstT,est:pTrainEst,trueT:pTrainTrueT,tru:pTrainTrue,half:pTrainHalf,start:pTrainHalfStart});
const p1a=svg.append("g").attr("transform","translate(318,0)").call(d3.axisLeft(p1y).tickValues(dYTicks).tickFormat(d=>String(d)).tickSize(20).tickSizeOuter(0).tickPadding(24));
styleAxis(p1a,3.5,50,DJ);
const p1b=svg.append("g").attr("transform","translate(0,3659.6)").call(d3.axisBottom(p1x).tickValues([0,100,200]).tickSize(18).tickSizeOuter(0).tickPadding(20));
styleAxis(p1b,3.5,54,DJ);
// test p
const p2x=d3.scaleLinear().domain([-3.42,69.3]).range([1376.7,2363.6]);
const p2y=d3.scaleLinear().domain([-3.34,4.17]).range([3662.6,3002]);
series({x:p2x,y:p2y,estT:idx(pTestEst),est:pTestEst,trueT:idx(pTestTrue),tru:pTestTrue,half:pTestHalf});
styleAxis(svg.append("g").attr("transform","translate(1405,0)").call(d3.axisLeft(p2y).tickValues([]).tickSizeOuter(0)),3.5,10,DJ);
const p2b=svg.append("g").attr("transform","translate(0,3662.6)").call(d3.axisBottom(p2x).tickValues([0,20,40,60]).tickSize(18).tickSizeOuter(0).tickPadding(18));
styleAxis(p2b,3.5,56,DJ);

label(849,2186,titles[0],83,{a:"middle"});
label(1832,2175,titles[1],84,{a:"middle"});
label(305,2230,"(D)",84,{w:"bold"});
label(0,0,"q",120,{w:"bold",s:"italic",f:SERIF,a:"middle",t:"translate(189,2628) rotate(-90)"});
label(0,0,"p",120,{w:"bold",s:"italic",f:SERIF,a:"middle",t:"translate(189,3329) rotate(-90)"});
label(849,3826,"Time index",83,{a:"middle"});
label(1905,3829,"Time index",83,{a:"middle"});

// legend
svg.append("rect").attr("x",1289).attr("y",2969).attr("width",675).attr("height",234).attr("rx",9).attr("fill","#fff").attr("stroke","#000").attr("stroke-width",4);
svg.append("rect").attr("x",1311).attr("y",3012).attr("width",140).attr("height",13).attr("fill","#ff0000");
svg.append("rect").attr("x",1307).attr("y",3082).attr("width",146).attr("height",14).attr("fill","#000");
svg.append("rect").attr("x",1309).attr("y",3144).attr("width",135).attr("height",37).attr("fill","#ffb0b0").attr("stroke","#ff8080").attr("stroke-width",3);
label(1507,3041,legendItems[0],55);
label(1507,3107,legendItems[1],55);
label(1456,3174,legendItems[2],55);
</script></body></html>
